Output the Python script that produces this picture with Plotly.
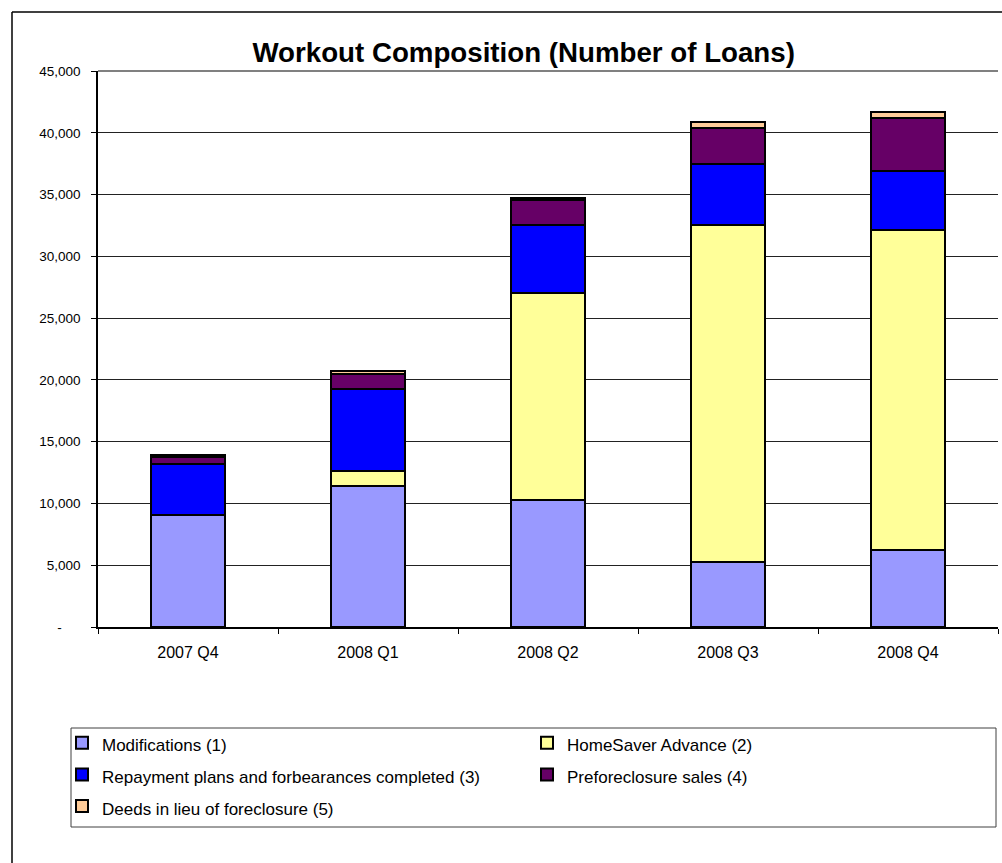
import plotly.graph_objects as go

# Quarterly workout counts by type (number of loans)
quarters = ["2007 Q4", "2008 Q1", "2008 Q2", "2008 Q3", "2008 Q4"]
modifications = [9050, 11400, 10250, 5250, 6250]
homesaver_advance = [0, 1200, 16780, 27300, 25900]
repayment_forbearance = [4120, 6650, 5530, 4950, 4750]
preforeclosure_sales = [560, 1200, 1970, 2920, 4320]
deeds_in_lieu = [200, 300, 200, 430, 430]

series_names = [
    "Modifications (1)",
    "HomeSaver Advance (2)",
    "Repayment plans and forbearances completed (3)",
    "Preforeclosure sales (4)",
    "Deeds in lieu of foreclosure (5)",
]
series_values = [modifications, homesaver_advance, repayment_forbearance,
                 preforeclosure_sales, deeds_in_lieu]
series_colors = ["#9999FF", "#FFFF99", "#0000FF", "#660066", "#FFCC99"]

y_tick_values = [0, 5000, 10000, 15000, 20000, 25000, 30000, 35000, 40000, 45000]
y_tick_labels = ["-\u00a0\u00a0\u00a0\u00a0\u00a0", "5,000", "10,000", "15,000", "20,000",
                 "25,000", "30,000", "35,000", "40,000", "45,000"]

font_family = "Liberation Sans, Arial, sans-serif"

# plot-area geometry in pixels (used to place paper-referenced extras)
W, H = 1002, 863
L, R, T, B = 98, 4, 71, 236
PW, PH = W - L - R, H - T - B


def px_x(x):
    return (x - L) / PW


def px_y(y):
    return (H - B - y) / PH


fig = go.Figure()
for name, vals, col in zip(series_names, series_values, series_colors):
    fig.add_trace(go.Bar(
        x=quarters, y=vals,
        name=f'<span style="font-size:17px">{name}</span>',
        marker=dict(color=col, line=dict(color="#000000", width=2)),
    ))

fig.update_layout(
    width=W, height=H,
    barmode="stack",
    bargap=0.59,
    paper_bgcolor="white",
    plot_bgcolor="white",
    margin=dict(l=L, r=R, t=T, b=B),
    font=dict(family=font_family, color="#000000"),
    title=dict(
        text="<b>Workout Composition (Number of Loans)</b>",
        font=dict(size=27.7, family=font_family, color="#000000"),
        x=0.473, xref="paper", xanchor="center",
        y=1 - 52 / H, yref="container", yanchor="middle",
    ),
    xaxis=dict(
        type="category",
        showgrid=False,
        showline=True, linecolor="#000000", linewidth=1.5,
        ticks="outside", tickson="boundaries", ticklen=5, tickcolor="#000000",
        tickfont=dict(size=16, family=font_family, color="#000000"),
        ticklabelstandoff=10,
        range=[-0.5, 4.5],
    ),
    yaxis=dict(
        range=[0, 45000],
        tickvals=y_tick_values, ticktext=y_tick_labels,
        showgrid=True, gridcolor="#222222", gridwidth=1,
        showline=True, linecolor="#000000", linewidth=1.5,
        ticks="outside", ticklen=5, tickcolor="#000000",
        tickfont=dict(size=13.5, family=font_family, color="#000000"),
        ticklabelstandoff=8,
        zeroline=False,
    ),
    legend=dict(
        orientation="h",
        x=px_x(62), xanchor="left",
        y=px_y(722), yanchor="top",
        entrywidth=420, entrywidthmode="pixels",
        bgcolor="rgba(0,0,0,0)", borderwidth=0,
        font=dict(size=22, family=font_family, color="#000000"),
        traceorder="normal",
    ),
    showlegend=True,
)

# gray plot-area top edge
fig.add_shape(type="line", xref="paper", yref="paper", x0=0, x1=1, y0=1, y1=1,
              line=dict(color="#808080", width=2))
# outer chart frame (left and top edges)
fig.add_shape(type="line", xref="paper", yref="paper",
              x0=px_x(12), x1=px_x(1010), y0=px_y(12), y1=px_y(12),
              line=dict(color="#000000", width=1.5), layer="below")
fig.add_shape(type="line", xref="paper", yref="paper",
              x0=px_x(12), x1=px_x(12), y0=px_y(12), y1=px_y(870),
              line=dict(color="#000000", width=1.5), layer="below")
# legend box
fig.add_shape(type="rect", xref="paper", yref="paper",
              x0=px_x(71), x1=px_x(996), y0=px_y(827), y1=px_y(728),
              line=dict(color="#404040", width=1), fillcolor="white", layer="below")

fig.write_html("out.html")
